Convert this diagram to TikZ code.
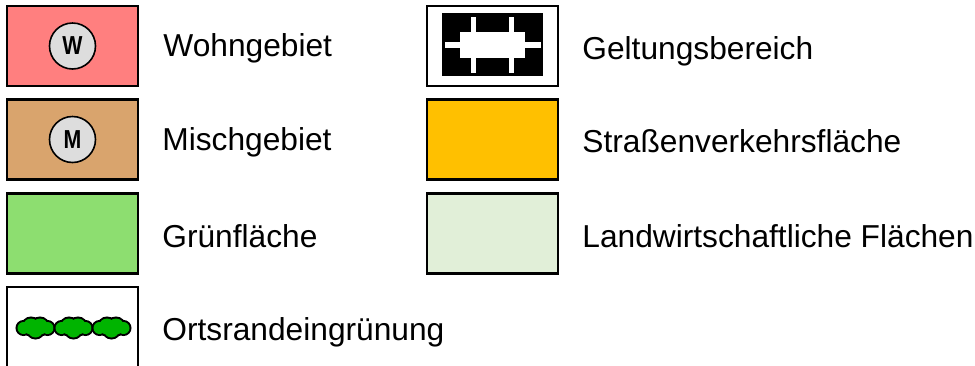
\documentclass[tikz,border=0pt]{standalone}
\usepackage{fontspec}
\setmainfont{Liberation Sans}
\usetikzlibrary{backgrounds}
\definecolor{wohnrot}{HTML}{FF7F7F}
\definecolor{mischbraun}{HTML}{D9A46D}
\definecolor{gruen}{HTML}{8DDE70}
\definecolor{strgelb}{HTML}{FFC000}
\definecolor{landgruen}{HTML}{E1EFD8}
\definecolor{heckgruen}{HTML}{00B400}
\definecolor{kreisgrau}{HTML}{DDDDDD}

\begin{document}
\begin{tikzpicture}[x=0.5pt,y=-0.5pt]
%\draw[help lines] (0,0) grid (975,365);
\tikzstyle{feld}=[rectangle,draw,line width=1.3pt,minimum width=65.5pt,minimum height=40pt,inner sep=0pt]
\tikzstyle{kreis}=[circle,draw,line width=0.8pt,fill=kreisgrau,minimum size=23pt,inner sep=0pt,font=\fontsize{13}{13}\bfseries]
\tikzstyle{t}=[anchor=base west,inner sep=0pt,font=\fontsize{15.85}{19}\selectfont]
\useasboundingbox (0,0) rectangle (975,365);
\clip (0,0) rectangle (975,365);

\node[feld,fill=wohnrot] (wohn) at (72.5,46) {};
\node[feld,fill=mischbraun] (misch) at (72.5,139.5) {};
\node[feld,fill=gruen] (gruenfl) at (72.5,233.5) {};
\node[feld,minimum height=45pt] (ortsrand) at (72.5,332) {};
\node[kreis] (wk) at (wohn) {\scalebox{0.82}[1]{W}};
\node[kreis] (mk) at (misch) {\scalebox{0.82}[1]{M}};

\node[feld] (geltung) at (492.5,46) {};
\node[feld,fill=strgelb] (strasse) at (492.5,139.5) {};
\node[feld,fill=landgruen] (landw) at (492.5,233.5) {};

% Geltungsbereich
\fill (442,13) rectangle (543,76);
\fill[white] (460,32) rectangle (525,58);
\fill[white] (445,42) rectangle (541,48);
\foreach \x in {471,509} {
  \fill[white] (\x,17) rectangle (\x+5,73);
}
\fill (442,32) rectangle (445,58);

% Ortsrandeingruenung
\foreach \x in {17,55,93} {
  \foreach \dx/\dy/\r in {6.5/0/6,14/-1.5/8,23/-1.5/8,18.5/2/7.5,30.5/0/6}
    \draw[line width=2pt] (\x+\dx,328+\dy) circle (\r);
  \foreach \dx/\dy/\r in {6.5/0/6,14/-1.5/8,23/-1.5/8,18.5/2/7.5,30.5/0/6}
    \fill[heckgruen] (\x+\dx,328+\dy) circle (\r);
}

\node[t] (wt) at (163,56) {Wohngebiet};
\node[t] (mt) at (162,150) {Mischgebiet};
\node[t] (gt) at (162,247) {Grünfläche};
\node[t] (ot) at (162,340) {Ortsrandeingrünung};
\node[t] (get) at (582,59) {Geltungsbereich};
\node[t] (st) at (582,152) {Straßenverkehrsfläche};
\node[t] (lt) at (582,247) {Landwirtschaftliche Flächen};
\end{tikzpicture}
\end{document}
